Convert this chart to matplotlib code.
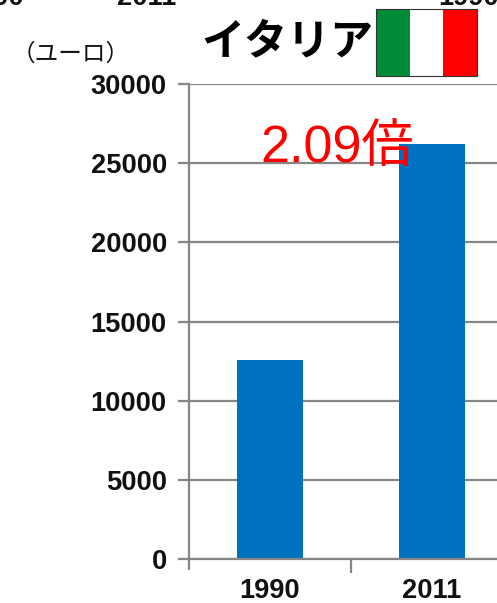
import matplotlib
matplotlib.use("Agg")
import matplotlib.pyplot as plt
from matplotlib.patches import Rectangle

years = ["1990", "2011"]
values = [12570, 26210]
y_ticks = [0, 5000, 10000, 15000, 20000, 25000, 30000]

W, H = 497, 603
plt.rcParams['font.family'] = ['Liberation Sans', 'Noto Sans CJK JP', 'DejaVu Sans']
fig = plt.figure(figsize=(W / 100, H / 100), dpi=100)
fig.patch.set_facecolor("white")

left, right, top, bottom = 189, 497, 84, 559
ax = fig.add_axes([left / W, 1 - bottom / H, (right - left) / W, (bottom - top) / H])
ax.bar(range(len(years)), values, width=0.41, color="#0070C0", zorder=3)
ax.set_xlim(-0.5, -0.5 + (right - left) / 162)
ax.set_ylim(0, 30000)
ax.set_yticks(y_ticks)
ax.set_yticklabels([str(v) for v in y_ticks], fontsize=19.6, fontweight="bold", color="#111111")
ax.set_xticks([0.5])
ax.set_xticklabels([""])
for i, yr in enumerate(years):
    ax.text(i, -32 / (bottom - top), yr, transform=ax.get_xaxis_transform(), ha="center", va="center",
            fontsize=19.6, fontweight="bold", color="#111111")
ax.grid(axis="y", color="#868686", lw=1.6, zorder=1)
ax.set_axisbelow(True)
for s in ["top", "right"]:
    ax.spines[s].set_visible(False)
for s in ["left", "bottom"]:
    ax.spines[s].set_color("#868686")
    ax.spines[s].set_linewidth(1.6)
ax.spines["bottom"].set_zorder(4)
ax.tick_params(axis="y", length=8, width=1.6, color="#868686", pad=8)
ax.tick_params(axis="x", length=10, width=1.6, color="#868686", pad=2)
# left spine stub below the baseline
ax.plot([0, 0], [0, -10 / (bottom - top)], transform=ax.transAxes, color="#868686", lw=1.6, clip_on=False)


def fx(x):
    return x / W


def fy(y):
    return 1 - y / H


fig.text(fx(287), fy(41), "イタリア", fontsize=31, fontweight="bold", ha="center", va="center", color="black",
         family=['Noto Sans CJK JP', 'DejaVu Sans'])
fig.text(fx(71), fy(54), "（ユーロ）", fontsize=17, ha="center", va="center", color="#111111",
         family=['Noto Sans CJK JP', 'DejaVu Sans'])
fig.text(fx(337.5), fy(148), "2.09倍", fontsize=37.5, ha="center", va="center", color="#FF0000", zorder=10,
         family=['Liberation Sans', 'Noto Sans CJK JP', 'DejaVu Sans'])

# clipped labels from the neighbouring panel above
for xc, s in [(-6, "1990"), (147, "2011"), (469, "1990")]:
    fig.text(fx(xc), fy(5), s, fontsize=19.6, fontweight="bold", ha="center", va="baseline", color="#111111")

# flag
for x0, w, c in [(376, 34, "#008C37"), (410, 34, "#FFFFFF"), (443, 34, "#FF0000")]:
    fig.add_artist(Rectangle((fx(x0), fy(76)), w / W, 67 / H, transform=fig.transFigure, facecolor=c, edgecolor="none"))
fig.add_artist(Rectangle((fx(376), fy(76)), 101 / W, 67 / H, transform=fig.transFigure, facecolor="none",
                         edgecolor="#333333", lw=0.8))

fig.savefig("out.png", dpi=100)
